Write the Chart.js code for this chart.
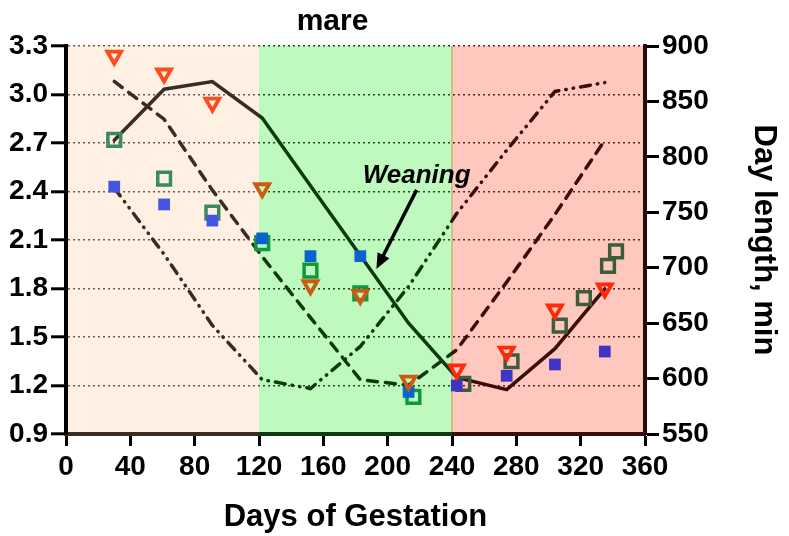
<!DOCTYPE html>
<html>
<head>
<meta charset="utf-8">
<script src="https://cdn.jsdelivr.net/npm/chart.js@4.4.1/dist/chart.umd.min.js"></script>
<style>
  html, body { margin: 0; padding: 0; background: #fff; }
</style>
</head>
<body>
<canvas id="chart" width="789" height="536"></canvas>
<script>
//
// Data: days of gestation, monthly samples
//
const days = [30, 61, 91, 122, 152, 183, 213, 243, 274, 304, 335];
const openSquareDays = [30, 61, 91, 122, 152, 183, 216, 247, 277, 307, 322, 337, 342];

// day length curves (min, right axis)
const dayLengthA = [815, 861, 868, 835, 774, 711, 650, 601, 590, 627, 681];
const dayLengthB = [868, 834, 770, 710, 655, 599, 594, 626, 687, 748, 815];
const dayLengthC = [772, 712, 648, 599, 591, 629, 683, 749, 806, 859, 867];

// group means (left axis)
const triangleValues = [3.24, 3.13, 2.95, 2.42, 1.82, 1.76, 1.23, 1.30, 1.41, 1.67, 1.80];
const openSquareValues = [2.72, 2.48, 2.27, 2.08, 1.91, 1.77, 1.13, 1.21, 1.35, 1.57, 1.74, 1.94, 2.03];
const filledSquareValues = [2.43, 2.32, 2.22, 2.11, 2.00, 2.00, 1.16, 1.20, 1.26, 1.33, 1.41];

// gestation thirds
const phaseBounds = [0, 120, 240, 360];

const xTicks = [0, 40, 80, 120, 160, 200, 240, 280, 320, 360];
const leftTicks = [0.9, 1.2, 1.5, 1.8, 2.1, 2.4, 2.7, 3.0, 3.3];
const rightTicks = [550, 600, 650, 700, 750, 800, 850, 900];

const weaning = { text: "Weaning", x: 218, y: 2.45, fromX: 218, fromY: 2.41, toX: 193, toY: 1.92 };

//
// Colours per phase
//
const bandFills = ["#FEF0E3", "#BEFABE", "#FFC8BF"];
const lineColors = ["#3A2C22", "#0C3A0E", "#3A0C0A"];
const gridColors = ["#6A5A50", "#1E4A1E", "#6A2020"];
const triangleColors = ["#FF4A1E", "#CC5A14", "#FF2A0A"];
const openSquareColors = ["#3A8A5C", "#0E9A3A", "#3C5C3C"];
const filledSquareColors = ["#4557E0", "#0864CC", "#3F35C4"];

const FONT = "'Liberation Sans', Arial, sans-serif";

function phaseOf(d) {
    if (d < phaseBounds[1]) return 0;
    if (d < phaseBounds[2]) return 1;
    return 2;
}

function phaseGradient(chart, colors) {
    const { ctx, chartArea, scales } = chart;
    if (!chartArea || !scales.x) return colors[0];
    const x = scales.x;
    const w = chartArea.right - chartArea.left;
    const g = ctx.createLinearGradient(chartArea.left, 0, chartArea.right, 0);
    for (let i = 0; i < 3; i++) {
        const a = Math.max(0, Math.min(1, (x.getPixelForValue(phaseBounds[i]) - chartArea.left) / w));
        const b = Math.max(0, Math.min(1, (x.getPixelForValue(phaseBounds[i + 1]) - chartArea.left) / w));
        g.addColorStop(a, colors[i]);
        g.addColorStop(b, colors[i]);
    }
    return g;
}

function byPhase(colors) {
    return ctx => (ctx.raw ? colors[phaseOf(ctx.raw.x)] : colors[0]);
}

function toPoints(xs, ys) {
    return ys.map((y, i) => ({ x: xs[i], y }));
}

//
// Background bands + annotation
//
const bandsPlugin = {
    id: "bands",

    beforeDraw(chart) {
        const { ctx, chartArea: { top, bottom }, scales: { x } } = chart;
        ctx.save();
        for (let i = 0; i < 3; i++) {
            const x0 = x.getPixelForValue(phaseBounds[i]);
            const x1 = x.getPixelForValue(phaseBounds[i + 1]);
            ctx.fillStyle = bandFills[i];
            ctx.fillRect(x0, top, x1 - x0, bottom - top);
        }
        // thin edge between 2nd and 3rd band
        const xe = x.getPixelForValue(phaseBounds[2]);
        ctx.fillStyle = "#CFC08A";
        ctx.fillRect(xe - 1, top, 2, bottom - top);
        ctx.restore();
    },

    afterDraw(chart) {
        const { ctx, chartArea, scales: { x, y } } = chart;
        ctx.save();

        // title (second line)
        ctx.fillStyle = "#000";
        ctx.font = "bold 30px " + FONT;
        ctx.textAlign = "center";
        ctx.textBaseline = "middle";
        ctx.fillText("mare", (chartArea.left + chartArea.right) / 2 - 23, 22);

        // weaning label and arrow
        ctx.font = "italic bold 26px " + FONT;
        ctx.textBaseline = "alphabetic";
        ctx.fillText(weaning.text, x.getPixelForValue(weaning.x), y.getPixelForValue(weaning.y));

        const x0 = x.getPixelForValue(weaning.fromX);
        const y0 = y.getPixelForValue(weaning.fromY);
        const x1 = x.getPixelForValue(weaning.toX);
        const y1 = y.getPixelForValue(weaning.toY);
        const ang = Math.atan2(y1 - y0, x1 - x0);
        const head = 17;

        ctx.strokeStyle = "#000";
        ctx.lineWidth = 3.5;
        ctx.beginPath();
        ctx.moveTo(x0, y0);
        ctx.lineTo(x1 - Math.cos(ang) * head * 0.8, y1 - Math.sin(ang) * head * 0.8);
        ctx.stroke();

        ctx.fillStyle = "#000";
        ctx.beginPath();
        ctx.moveTo(x1, y1);
        ctx.lineTo(x1 - head * Math.cos(ang - 0.4), y1 - head * Math.sin(ang - 0.4));
        ctx.lineTo(x1 - head * Math.cos(ang + 0.4), y1 - head * Math.sin(ang + 0.4));
        ctx.closePath();
        ctx.fill();

        ctx.restore();
    }
};

Chart.register(bandsPlugin);

function lineDataset(label, values, dash) {
    return {
        label,
        type: "line",
        data: toPoints(days, values),
        yAxisID: "y1",
        showLine: true,
        pointRadius: 0,
        borderWidth: 3.5,
        borderDash: dash,
        borderCapStyle: "round",
        borderColor: c => phaseGradient(c.chart, lineColors),
        fill: false,
        tension: 0,
        order: 10
    };
}

new Chart(document.getElementById("chart"), {
    type: "scatter",
    data: {
        datasets: [
            lineDataset("Day length A", dayLengthA, []),
            lineDataset("Day length B", dayLengthB, [10, 8]),
            lineDataset("Day length C", dayLengthC, [10, 7, 0.5, 7, 0.5, 7]),
            {
                label: "Open squares",
                data: toPoints(openSquareDays, openSquareValues),
                yAxisID: "y",
                pointStyle: "rect",
                pointRadius: 9,
                pointBorderWidth: 3.5,
                pointBackgroundColor: "rgba(0,0,0,0)",
                pointBorderColor: byPhase(openSquareColors),
                order: 3
            },
            {
                label: "Filled squares",
                data: toPoints(days, filledSquareValues),
                yAxisID: "y",
                pointStyle: "rect",
                pointRadius: 8.3,
                pointBorderWidth: 0,
                pointBackgroundColor: byPhase(filledSquareColors),
                pointBorderColor: byPhase(filledSquareColors),
                order: 2
            },
            {
                label: "Triangles",
                data: toPoints(days, triangleValues),
                yAxisID: "y",
                pointStyle: "triangle",
                rotation: 180,
                pointRotation: 180,
                pointRadius: 8,
                pointBorderWidth: 3.8,
                pointBackgroundColor: "rgba(0,0,0,0)",
                pointBorderColor: byPhase(triangleColors),
                order: 1
            }
        ]
    },
    options: {
        responsive: false,
        animation: false,
        layout: { padding: { top: 46, left: 0, right: 7, bottom: 0 } },
        plugins: {
            legend: { display: false },
            tooltip: { enabled: false },
            title: { display: false }
        },
        scales: {
            x: {
                type: "linear",
                min: 0,
                max: 360,
                afterBuildTicks: s => { s.ticks = xTicks.map(v => ({ value: v })); },
                afterFit: s => { s.height = 102; },
                ticks: {
                    color: "#000",
                    font: { family: FONT, size: 28, weight: "bold" },
                    padding: 4,
                    maxRotation: 0
                },
                grid: {
                    drawOnChartArea: false,
                    drawTicks: true,
                    tickLength: 12,
                    tickWidth: 3,
                    tickColor: "#000"
                },
                border: {
                    width: 4,
                    color: c => phaseGradient(c.chart, lineColors)
                },
                title: {
                    display: true,
                    text: "Days of Gestation",
                    color: "#000",
                    font: { family: FONT, size: 31, weight: "bold" },
                    padding: { top: 0, bottom: 0 }
                }
            },
            y: {
                position: "left",
                min: 0.9,
                max: 3.3,
                afterBuildTicks: s => { s.ticks = leftTicks.map(v => ({ value: v })); },
                afterFit: s => { s.width = 66; },
                ticks: {
                    color: "#000",
                    font: { family: FONT, size: 28, weight: "bold" },
                    padding: 3,
                    callback: v => v.toFixed(1)
                },
                grid: {
                    drawOnChartArea: true,
                    color: c => phaseGradient(c.chart, gridColors),
                    lineWidth: 1.6,
                    tickLength: 15,
                    tickWidth: 3,
                    tickColor: "#000"
                },
                border: {
                    width: 4,
                    color: "#000",
                    dash: [2, 3]
                }
            },
            y1: {
                position: "right",
                min: 550,
                max: 900,
                afterBuildTicks: s => { s.ticks = rightTicks.map(v => ({ value: v })); },
                afterFit: s => { s.width = 137; },
                ticks: {
                    color: "#000",
                    font: { family: FONT, size: 28, weight: "bold" },
                    padding: 3
                },
                grid: {
                    drawOnChartArea: false,
                    tickLength: 14,
                    tickWidth: 3,
                    tickColor: "#000"
                },
                border: {
                    width: 4,
                    color: "#2A0A0A"
                },
                title: {
                    display: true,
                    text: "Day length, min",
                    color: "#000",
                    font: { family: FONT, size: 31, weight: "bold" },
                    padding: { top: 0, bottom: 0 }
                }
            }
        }
    }
});
</script>
</body>
</html>
